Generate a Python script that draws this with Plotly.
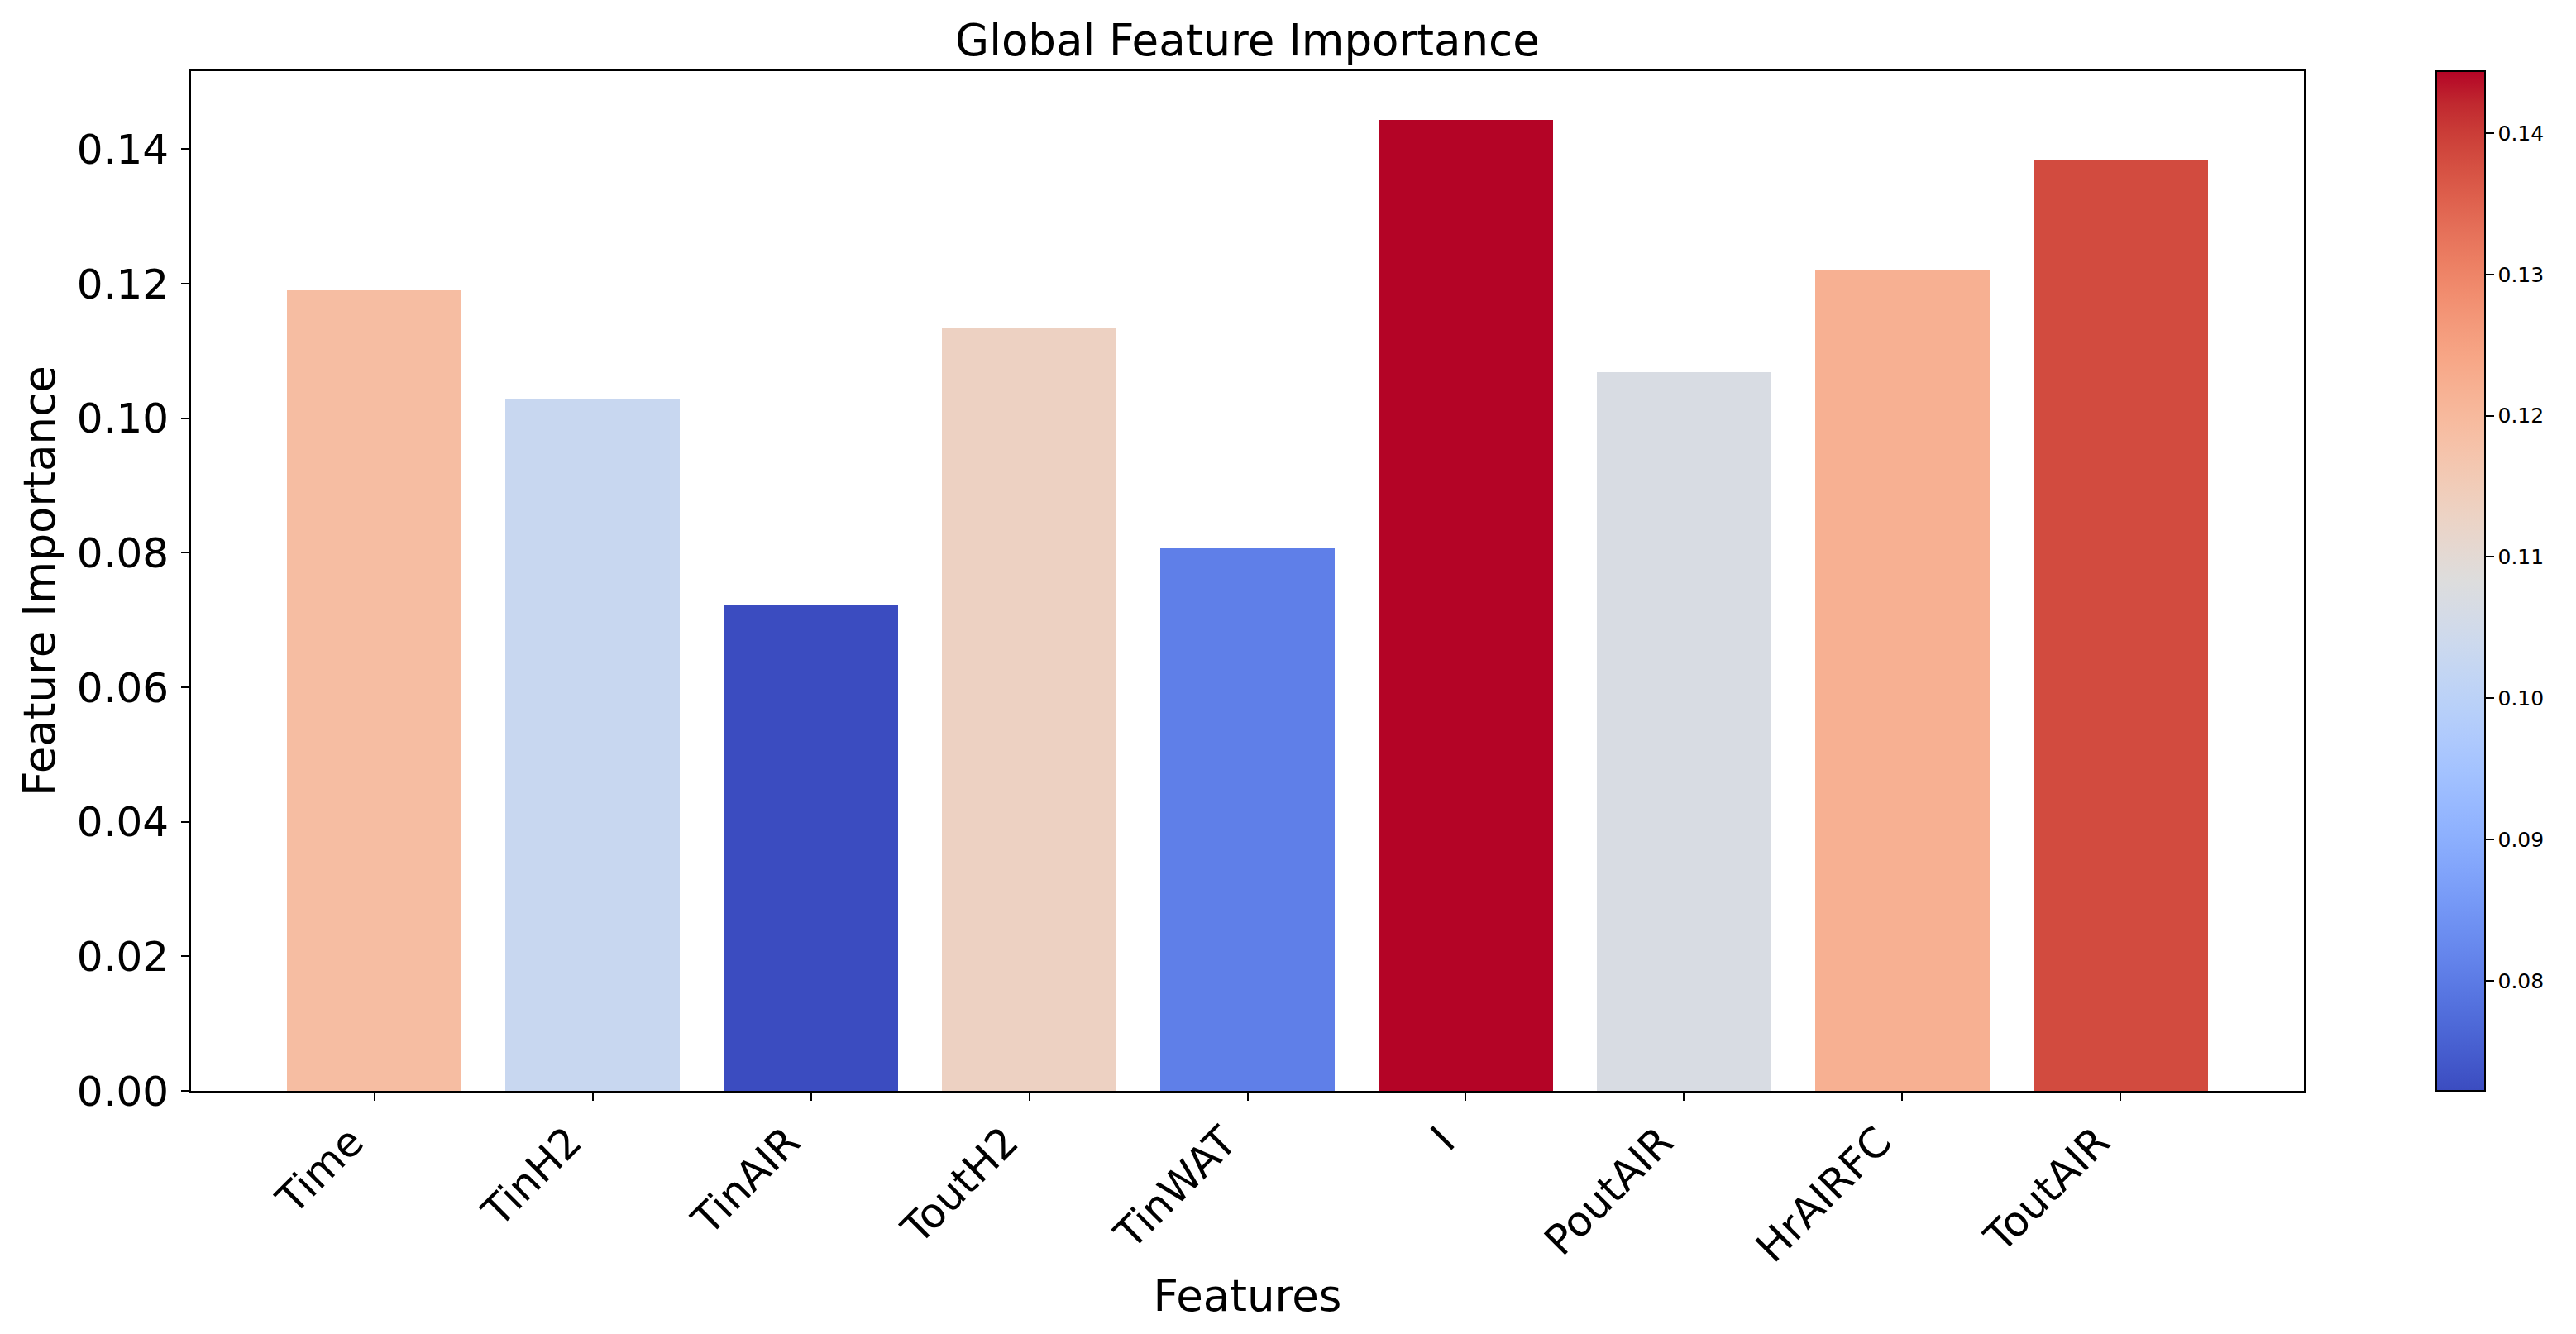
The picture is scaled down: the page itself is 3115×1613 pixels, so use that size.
import plotly.graph_objects as go

features = ["Time", "TinH2", "TinAIR", "ToutH2", "TinWAT", "I", "PoutAIR", "HrAIRFC", "ToutAIR"]
importance = [0.1190, 0.1029, 0.0722, 0.1134, 0.0807, 0.1444, 0.1068, 0.1220, 0.1383]

# matplotlib "coolwarm" sampled at 33 points
coolwarm_rgb = [
    (59, 76, 192), (68, 90, 204), (77, 104, 215), (87, 117, 225), (98, 130, 234),
    (108, 142, 241), (119, 154, 247), (130, 165, 251), (141, 176, 254), (152, 185, 255),
    (163, 194, 255), (174, 201, 253), (184, 208, 249), (194, 213, 244), (204, 217, 238),
    (213, 219, 230), (221, 221, 221), (229, 216, 209), (236, 211, 197), (241, 204, 184),
    (245, 196, 172), (247, 187, 159), (247, 177, 147), (247, 166, 134), (244, 154, 123),
    (241, 141, 111), (236, 127, 99), (229, 112, 89), (222, 96, 77), (213, 80, 66),
    (203, 62, 56), (192, 40, 47), (180, 4, 38),
]
coolwarm = [[i / (len(coolwarm_rgb) - 1), "rgb(%d,%d,%d)" % c] for i, c in enumerate(coolwarm_rgb)]

FONT = "DejaVu Sans"
# page body has an 8px margin, so the figure is 8px smaller and shifted
W, H = 3107, 1605
L, R, T, B = 223, 329, 78, 294
plot_w = W - L - R

fig = go.Figure()
fig.add_trace(go.Bar(
    x=list(range(len(features))),
    y=importance,
    width=0.8,
    marker=dict(
        color=importance,
        colorscale=coolwarm,
        cmin=min(importance),
        cmax=max(importance),
        line=dict(width=0),
        colorbar=dict(
            x=(2938 - L) / plot_w,
            xanchor="left",
            xpad=0,
            y=0.5,
            yanchor="middle",
            ypad=0,
            len=1,
            lenmode="fraction",
            thickness=59,
            outlinewidth=2,
            outlinecolor="black",
            ticks="outside",
            ticklen=10,
            tickwidth=2,
            tickcolor="black",
            dtick=0.01,
            tickformat=".2f",
            tickfont=dict(family=FONT, size=25, color="black"),
        ),
    ),
    showlegend=False,
))

fig.update_layout(
    width=W,
    height=H,
    margin=dict(l=L, r=R, t=T, b=B, autoexpand=False),
    paper_bgcolor="white",
    plot_bgcolor="white",
    font=dict(family=FONT, color="black"),
    title=dict(
        text="Global Feature Importance",
        x=(L + plot_w / 2) / W,
        xanchor="center",
        y=1 - 40 / H,
        yanchor="middle",
        yref="container",
        font=dict(family=FONT, size=53, color="black"),
    ),
    bargap=0,
)

fig.update_xaxes(
    range=[-0.84, 8.84],
    tickmode="array",
    tickvals=list(range(len(features))),
    ticktext=features,
    tickangle=-45,
    tickfont=dict(family=FONT, size=50, color="black"),
    ticklabelshift=-28,
    ticks="outside",
    ticklen=10,
    tickwidth=2,
    tickcolor="black",
    showline=True,
    linecolor="black",
    linewidth=2,
    mirror=True,
    showgrid=False,
    zeroline=False,
    title=dict(text="Features", font=dict(family=FONT, size=53, color="black"), standoff=11),
    automargin=False,
)

fig.update_yaxes(
    range=[0, 0.1516],
    dtick=0.02,
    tickformat=".2f",
    tickfont=dict(family=FONT, size=50, color="black"),
    ticks="outside",
    ticklen=10,
    tickwidth=2,
    tickcolor="black",
    ticklabelstandoff=5,
    showline=True,
    linecolor="black",
    linewidth=2,
    mirror=True,
    showgrid=False,
    zeroline=False,
    title=dict(text="Feature Importance", font=dict(family=FONT, size=53, color="black"), standoff=9),
    automargin=False,
)

fig.write_html("out.html")
